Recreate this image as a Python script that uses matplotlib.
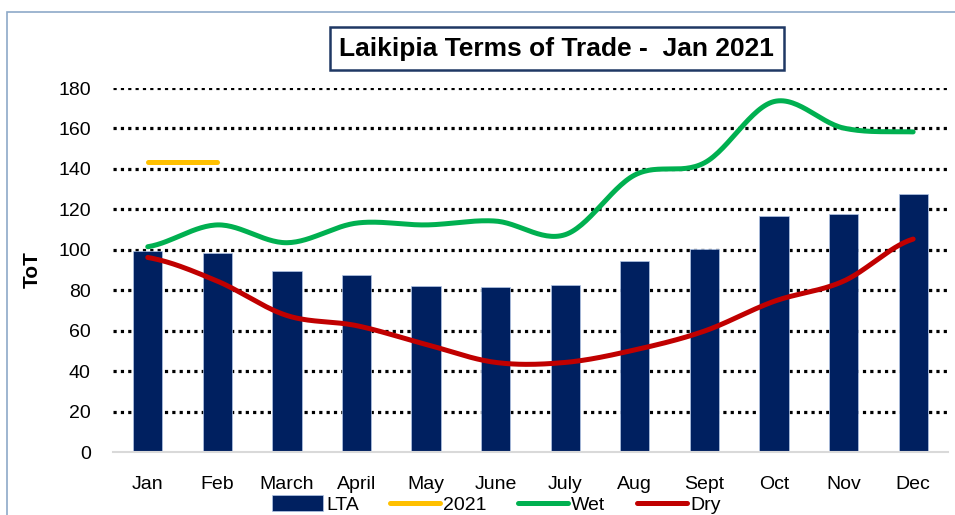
import matplotlib.pyplot as plt
import numpy as np
from matplotlib.patches import Rectangle

plt.rcParams['font.family'] = ['Liberation Sans', 'DejaVu Sans']

# data
months = ['Jan', 'Feb', 'March', 'April', 'May', 'June', 'July', 'Aug', 'Sept', 'Oct', 'Nov', 'Dec']
lta = [99.5, 98.5, 89.5, 87.5, 82.3, 81.5, 82.5, 94.5, 100.5, 116.5, 117.5, 127.5]
y2021 = [143.5, 143.5]
wet = [101.5, 112.3, 103.5, 113.2, 112.3, 114.2, 107.5, 137, 143, 173.3, 160.2, 158.3]
dry = [96.2, 84.5, 67.5, 62.5, 53.2, 44.3, 44.3, 50.5, 59.8, 74.5, 84.5, 105.3]


def smooth(ys, n=30):
    # catmull-rom style smoothing, like the office "smoothed line"
    ys = np.asarray(ys, float)
    xs = np.arange(len(ys), dtype=float)
    px, py = [], []
    for i in range(len(ys) - 1):
        p0 = ys[max(i - 1, 0)]
        p1, p2 = ys[i], ys[i + 1]
        p3 = ys[min(i + 2, len(ys) - 1)]
        t = np.linspace(0, 1, n, endpoint=False)
        y = 0.5 * (2 * p1 + (-p0 + p2) * t + (2 * p0 - 5 * p1 + 4 * p2 - p3) * t ** 2
                   + (-p0 + 3 * p1 - 3 * p2 + p3) * t ** 3)
        px.extend(xs[i] + t)
        py.extend(y)
    px.append(xs[-1])
    py.append(ys[-1])
    return np.array(px), np.array(py)


fig = plt.figure(figsize=(9.55, 5.15), dpi=100)
ax = fig.add_axes([0.1183, 0.1223, 0.8743, 0.7068])

x = np.arange(len(months))
h_lta = ax.bar(x, lta, width=0.42, color='#002060', edgecolor='#B4C7E7', linewidth=0.5,
               label='LTA', zorder=2)
h_21, = ax.plot(x[:len(y2021)], y2021, color='#FFC000', lw=3.6, solid_capstyle='round',
                label='2021', zorder=3)
sx, sy = smooth(wet)
h_wet, = ax.plot(sx, sy, color='#00B050', lw=3.6, solid_capstyle='round', label='Wet', zorder=3)
sx, sy = smooth(dry)
h_dry, = ax.plot(sx, sy, color='#C00000', lw=3.6, solid_capstyle='round', label='Dry', zorder=3)

ax.set_xlim(-0.5, 11.5)
ax.set_ylim(0, 180)
ax.set_yticks(range(0, 181, 20))
ax.set_xticks(x)
ax.set_xticklabels(months)
ax.tick_params(axis='both', length=0, labelsize=14)
ax.tick_params(axis='x', pad=17)
ax.tick_params(axis='y', pad=16)
for s in ['top', 'right', 'left']:
    ax.spines[s].set_visible(False)
ax.spines['bottom'].set_color('#D9D9D9')
ax.spines['bottom'].set_linewidth(1.5)
ax.grid(axis='y', color='black', linestyle=(0, (1, 1.3)), linewidth=2.3, zorder=1)
ax.set_axisbelow(True)
for gl in ax.get_ygridlines()[:1]:
    gl.set_visible(False)

ax.set_ylabel('ToT', fontsize=15, fontweight='bold', labelpad=12)

fig.text(0.583, 0.905, 'Laikipia Terms of Trade -  Jan 2021', ha='center', va='center',
         fontsize=19, fontweight='bold',
         bbox=dict(boxstyle='square,pad=0.36', facecolor='white', edgecolor='#1F3864', linewidth=1.8))

# outer chart border
fig.patches.append(Rectangle((7 / 955, -0.1), 1.2, 0.1 + (515 - 12) / 515, transform=fig.transFigure,
                             fill=False, edgecolor='#8EA9C8', linewidth=1.2))

fig.legend([h_lta, h_21, h_wet, h_dry], ['LTA', '2021', 'Wet', 'Dry'],
           loc='center', bbox_to_anchor=(0.52, 0.02), ncol=4, frameon=False, fontsize=14,
           handlelength=2.6, handleheight=0.9, columnspacing=1.6, handletextpad=0.15)

fig.savefig('out.png', dpi=100)
